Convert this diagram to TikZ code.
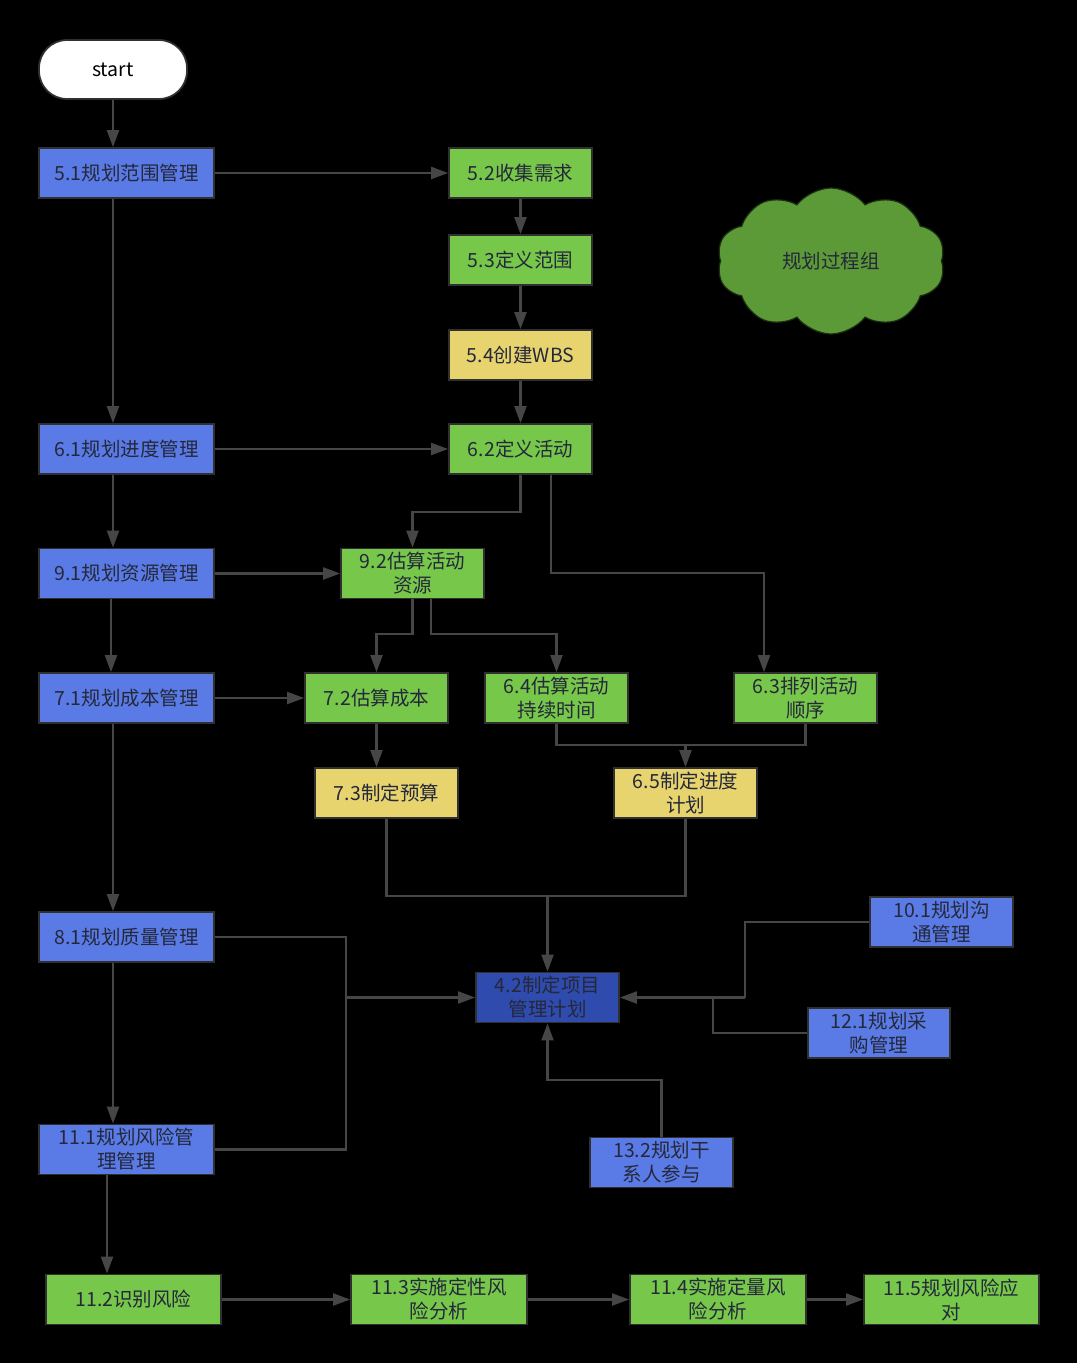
\documentclass[tikz,border=0pt]{standalone}
\usepackage{fontspec}
\setmainfont{Noto Sans CJK SC}
\usetikzlibrary{arrows.meta,shapes.symbols}
\definecolor{cblue}{HTML}{5A7BE6}
\definecolor{cgreen}{HTML}{77C74A}
\definecolor{cyellow}{HTML}{E8D46F}
\definecolor{cdblue}{HTML}{2E4BAD}
\definecolor{ccloud}{HTML}{5B9A37}
\definecolor{cline}{HTML}{464646}
\definecolor{cborder}{HTML}{303030}
\definecolor{ctext}{HTML}{24283A}
\tikzset{
  box/.style={draw=cborder, line width=1.8pt, minimum width=143pt, minimum height=50pt,
    inner sep=0pt, align=center, text=ctext, font=\fontsize{19.5}{24}\selectfont},
  bluebox/.style={box, fill=cblue},
  widebox/.style={minimum width=175pt},
  greenbox/.style={box, fill=cgreen},
  yellowbox/.style={box, fill=cyellow},
  conn/.style={draw=cline, line width=2.2pt},
  arr/.style={conn, -{Triangle[length=17pt,width=12pt]}},
}
\begin{document}
\begin{tikzpicture}[x=1pt,y=-1pt]
\path[fill=black] (0,0) rectangle (1077,1363);
% nodes
\node[draw=cborder, line width=1.8pt, fill=white, rounded corners=28pt, minimum width=148pt,
  minimum height=59pt, text=black, font=\fontsize{19.5}{24}\selectfont] (start) at (113,69.5) {start};
\node[bluebox, widebox] (b51) at (126.5,173) {5.1规划范围管理};
\node[greenbox] (b52) at (520.5,173) {5.2收集需求};
\node[greenbox] (b53) at (520.5,260) {5.3定义范围};
\node[yellowbox] (b54) at (520.5,355) {5.4创建WBS};
\node[cloud, cloud puffs=10, cloud puff arc=105, aspect=1.55, draw=black!70!ccloud, line width=1.2pt,
  fill=ccloud, minimum width=228pt, minimum height=146pt, text=ctext,
  font=\fontsize{19.5}{24}\selectfont] (cloud) at (831,261) {规划过程组};
\node[bluebox, widebox] (b61) at (126.5,449) {6.1规划进度管理};
\node[greenbox] (b62) at (520.5,449) {6.2定义活动};
\node[bluebox, widebox] (b91) at (126.5,573.5) {9.1规划资源管理};
\node[greenbox] (b92) at (412.5,573.5) {9.2估算活动\\资源};
\node[bluebox, widebox] (b71) at (126.5,698) {7.1规划成本管理};
\node[greenbox] (b72) at (376.5,698) {7.2估算成本};
\node[greenbox] (b64) at (556.5,698) {6.4估算活动\\持续时间};
\node[greenbox] (b63) at (805.5,698) {6.3排列活动\\顺序};
\node[yellowbox] (b73) at (386.5,793) {7.3制定预算};
\node[yellowbox] (b65) at (685.5,793) {6.5制定进度\\计划};
\node[bluebox, widebox] (b81) at (126.5,937) {8.1规划质量管理};
\node[box, fill=cdblue] (b42) at (547.5,997.5) {4.2制定项目\\管理计划};
\node[bluebox] (b101) at (941.5,922) {10.1规划沟\\通管理};
\node[bluebox, minimum width=142pt] (b121) at (879,1033) {12.1规划采\\购管理};
\node[bluebox] (b132) at (661.5,1162.5) {13.2规划干\\系人参与};
\node[bluebox, widebox] (b111) at (126.5,1149.5) {11.1规划风险管\\理管理};
\node[greenbox, widebox] (b112) at (133.5,1299.5) {11.2识别风险};
\node[greenbox, minimum width=176pt] (b113) at (439,1299.5) {11.3实施定性风\\险分析};
\node[greenbox, minimum width=176pt] (b114) at (718,1299.5) {11.4实施定量风\\险分析};
\node[greenbox, widebox] (b115) at (951.5,1299.5) {11.5规划风险应\\对};
% junctions
\coordinate (jl) at (346,997.5);
\coordinate (jr) at (745,997.5);
\coordinate (jr2) at (713,997.5);
% connectors
\draw[arr] (start.south) -- (start.south |- b51.north);
\draw[arr] (b51) -- (b52);
\draw[arr] ([xshift=-13.5pt]b51.south) -- ([xshift=-13.5pt]b61.north);
\draw[arr] (b52) -- (b53);
\draw[arr] (b53) -- (b54);
\draw[arr] (b54) -- (b62);
\draw[arr] (b61) -- (b62);
\draw[arr] ([xshift=-13.5pt]b61.south) -- ([xshift=-13.5pt]b91.north);
\draw[arr] (b62.south) -- (b62.south |- 0,512) -| (b92.north);
\draw[arr] ([xshift=30.5pt]b62.south) -- ([xshift=30.5pt]b62.south |- 0,573) -| ([xshift=-41.5pt]b63.north);
\draw[arr] (b91) -- (b92);
\draw[arr] ([xshift=-15.5pt]b91.south) -- ([xshift=-15.5pt]b71.north);
\draw[arr] (b92.south) -- (b92.south |- 0,634) -| (b72.north);
\draw[arr] ([xshift=18.5pt]b92.south) -- ([xshift=18.5pt]b92.south |- 0,634) -| (b64.north);
\draw[arr] (b71) -- (b72);
\draw[arr] ([xshift=-13.5pt]b71.south) -- ([xshift=-13.5pt]b81.north);
\draw[arr] (b72.south) -- (b72.south |- b73.north);
\draw[arr] (b64.south) -- (b64.south |- 0,745) -| (b65.north);
\draw[conn] (b63.south) -- (b63.south |- 0,745) -- (b65.north |- 0,745);
\draw[arr] (b73.south) -- (b73.south |- 0,896) -| (b42.north);
\draw[conn] (b65.south) -- (b65.south |- 0,896) -- (b42.north |- 0,896);
\draw[conn] (b81.east) -| (jl);
\draw[conn] (b111.east) -| (jl);
\draw[arr] (jl) -- (b42.west);
\draw[conn] (b101.west) -| (jr);
\draw[conn] (b121.west) -| (jr2);
\draw[arr] (jr) -- (b42.east);
\draw[arr] (b132.north) -- (b132.north |- 0,1080) -| (b42.south);
\draw[arr] ([xshift=-13.5pt]b81.south) -- ([xshift=-13.5pt]b111.north);
\draw[arr] ([xshift=-19.5pt]b111.south) -- ([xshift=-19.5pt]b111.south |- b112.north);
\draw[arr] (b112) -- (b113);
\draw[arr] (b113) -- (b114);
\draw[arr] (b114) -- (b115);
\end{tikzpicture}
\end{document}
